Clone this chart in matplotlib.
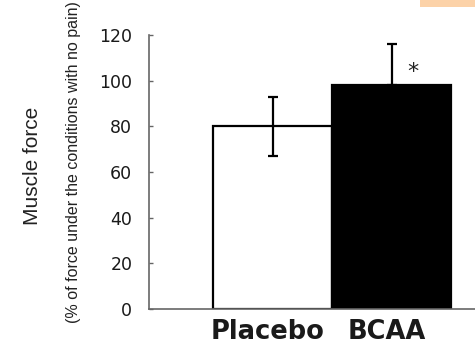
import matplotlib
matplotlib.use("Agg")
import matplotlib.pyplot as plt
from matplotlib.patches import Rectangle
from matplotlib.transforms import ScaledTranslation

groups = ["Placebo", "BCAA"]
means = [80, 98]
err_low = [13, 0]
err_high = [13, 18]
bar_colors = ["white", "black"]
yticks = [0, 20, 40, 60, 80, 100, 120]

fig = plt.figure(figsize=(4.75, 3.48), dpi=100)
ax = fig.add_axes([0.3137, 0.112, 0.6863, 0.7874])

x = list(range(len(groups)))
ax.bar(x, means, width=1.0, color=bar_colors, edgecolor="black", linewidth=1.6, zorder=2)
ax.errorbar(x, means, yerr=[err_low, err_high], fmt="none", ecolor="black",
            elinewidth=1.6, capsize=3.5, capthick=1.6, zorder=3)

# significance mark
ax.text(x[1] + 0.18, 104, "*", ha="center", va="center", fontsize=16, color="#222222")

ax.set_xlim(-1.04, 1.70)
ax.set_ylim(0, 120)
ax.set_yticks(yticks)
ax.set_yticklabels([str(v) for v in yticks], fontsize=12.5, color="#1a1a1a",
                   family="DejaVu Sans")
ax.tick_params(axis="y", direction="in", length=3, width=1, color="#666666", pad=12)
ax.set_xticks(x)
ax.set_xticklabels(groups, fontsize=18.5, fontweight="bold", family="DejaVu Sans", color="#1a1a1a")
ax.tick_params(axis="x", length=0, pad=7)
# labels sit slightly left of the bar centres in the original
for lbl in ax.get_xticklabels():
    lbl.set_transform(lbl.get_transform() + ScaledTranslation(-0.05, 0, fig.dpi_scale_trans))

for side in ["top", "right"]:
    ax.spines[side].set_visible(False)
for side in ["left", "bottom"]:
    ax.spines[side].set_color("#666666")
    ax.spines[side].set_linewidth(1.2)

fig.text(0.068, 0.523, "Muscle force", rotation=90, ha="center", va="center",
         fontsize=15, family="Liberation Sans", color="#222222")
fig.text(0.155, 0.535, "(% of force under the conditions with no pain)", rotation=90,
         ha="center", va="center", fontsize=11.5, family="Liberation Sans", color="#222222")

fig.patches.append(Rectangle((0.884, 0.98), 0.116, 0.02, transform=fig.transFigure,
                             facecolor="#fcd2a8", edgecolor="none"))

fig.savefig("out.png", dpi=100)
